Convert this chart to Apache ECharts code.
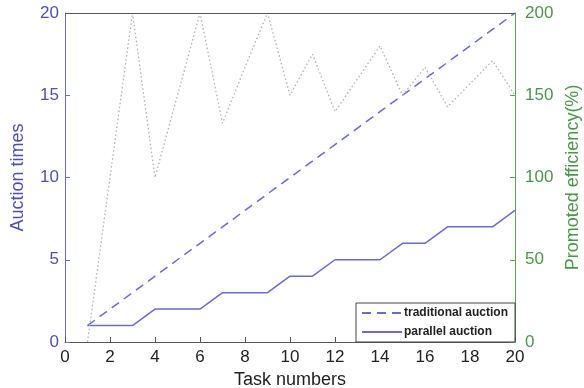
<!DOCTYPE html>
<html>
<head>
<meta charset="utf-8">
<script src="https://cdn.jsdelivr.net/npm/echarts@6/dist/echarts.min.js"></script>
<style>html,body{margin:0;padding:0;background:#fff}#c{width:584px;height:388px}</style>
</head>
<body>
<div id="c"></div>
<script>
const taskNumbers = [1,2,3,4,5,6,7,8,9,10,11,12,13,14,15,16,17,18,19,20];
const traditionalAuction = [1,2,3,4,5,6,7,8,9,10,11,12,13,14,15,16,17,18,19,20];
const parallelAuction = [1,1,1,2,2,2,3,3,3,4,4,5,5,5,6,6,7,7,7,8];
const promotedEfficiency = [0,100,200,100,150,200,133,167,200,150,175,140,160,180,150,167,143,157,171,150];
const xTicks = [0,2,4,6,8,10,12,14,16,18,20];

const blue = '#6b6bcc', blueText = '#4f4fb0', green = '#5aa55a', greenText = '#4c954c';
const font = 'Liberation Sans, Arial, sans-serif';
const pairs = (ys) => taskNumbers.map((x, i) => [x, ys[i]]);

const chart = echarts.init(document.getElementById('c'), null, {renderer: 'canvas'});
chart.setOption({
  animation: false,
  grid: {left: 65, right: 69, top: 13, bottom: 46, containLabel: false, outerBoundsMode: 'none'},
  legend: {
    data: ['traditional auction', 'parallel auction'],
    orient: 'vertical', right: 69, bottom: 46, z: 10,
    backgroundColor: '#fff', borderColor: '#444', borderWidth: 1, borderRadius: 0,
    padding: [4, 7, 4, 5], itemGap: 7, itemWidth: 40, itemHeight: 12,
    itemStyle: {color: 'transparent', borderColor: 'transparent', borderWidth: 0},
    textStyle: {fontFamily: font, fontSize: 12, fontWeight: 'bold', color: '#222', padding: [0, 0, 0, -3]}
  },
  xAxis: [{
    type: 'value', min: xTicks[0], max: xTicks[xTicks.length-1], interval: 2, position: 'bottom',
    name: 'Task numbers', nameLocation: 'middle', nameGap: 25,
    nameTextStyle: {fontFamily: font, fontSize: 18, color: '#222'},
    axisLine: {onZero: false, lineStyle: {color: '#555', width: 1}},
    axisTick: {inside: true, length: 5, lineStyle: {color: '#555'}},
    axisLabel: {fontFamily: font, fontSize: 17, color: '#222', margin: 7},
    splitLine: {show: false}
  }],
  yAxis: [{
    type: 'value', min: 0, max: 20, interval: 5, position: 'left',
    name: 'Auction times', nameLocation: 'middle', nameGap: 38,
    nameTextStyle: {fontFamily: font, fontSize: 18, color: blueText},
    axisLine: {show: true, onZero: false, lineStyle: {color: blue, width: 1}},
    axisTick: {show: true, inside: true, length: 5, lineStyle: {color: blue}},
    axisLabel: {fontFamily: font, fontSize: 17, color: blueText, margin: 6},
    splitLine: {show: false}
  }, {
    type: 'value', min: 0, max: 200, interval: 50, position: 'right',
    name: 'Promoted efficiency(%)', nameLocation: 'middle', nameGap: 46,
    nameTextStyle: {fontFamily: font, fontSize: 18, color: greenText},
    axisLine: {show: true, onZero: false, lineStyle: {color: green, width: 1}},
    axisTick: {show: true, inside: true, length: 5, lineStyle: {color: green}},
    axisLabel: {fontFamily: font, fontSize: 17, color: greenText, margin: 10},
    splitLine: {show: false}
  }],
  series: [{
    name: 'traditional auction', type: 'line', data: pairs(traditionalAuction),
    showSymbol: false, symbol: 'none', color: blue,
    lineStyle: {color: blue, width: 1.5, type: [9, 6]},
    markLine: {
      silent: true, symbol: 'none', animation: false,
      label: {show: false},
      lineStyle: {color: '#555', width: 1, type: 'solid'},
      data: [{yAxis: 20}]
    }
  }, {
    name: 'parallel auction', type: 'line', data: pairs(parallelAuction),
    showSymbol: false, symbol: 'none', color: blue,
    lineStyle: {color: blue, width: 1.5, type: 'solid'}
  }, {
    name: 'promoted efficiency', type: 'line', yAxisIndex: 1, data: pairs(promotedEfficiency),
    showSymbol: false, symbol: 'none', color: '#aaa',
    lineStyle: {color: '#b0b0b0', width: 1.3, type: [1.5, 2.5]}
  }]
});
</script>
</body>
</html>
